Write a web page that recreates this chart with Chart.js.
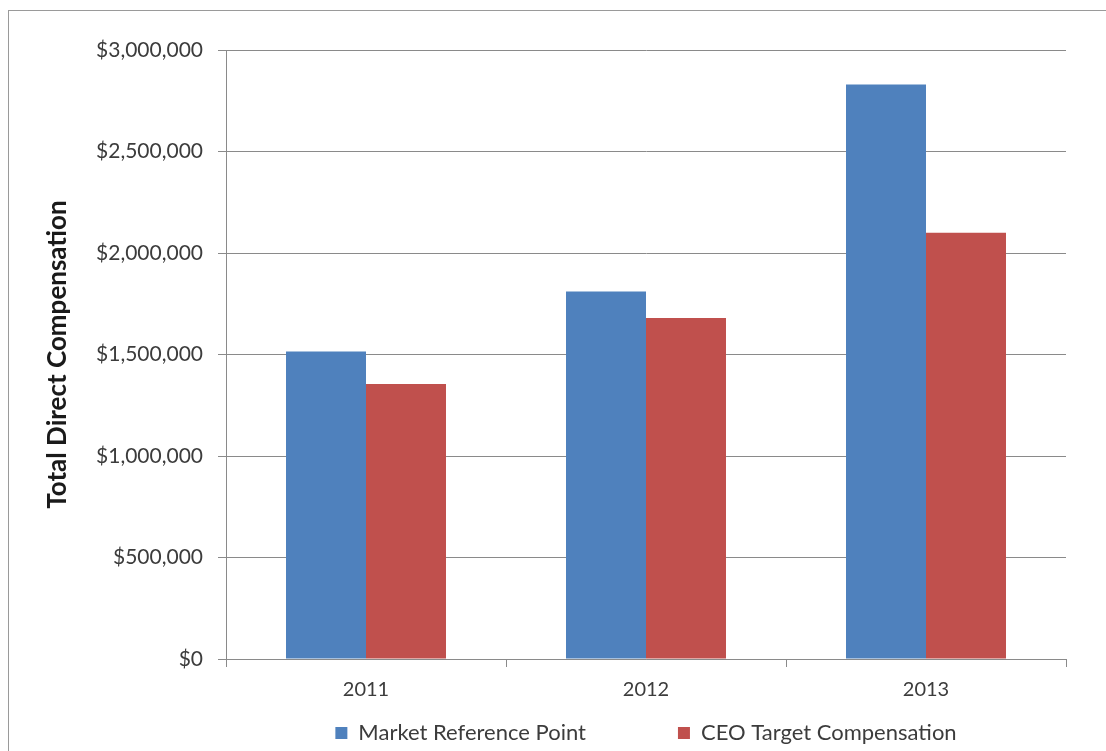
<!DOCTYPE html>
<html>
<head>
<meta charset="utf-8">
<script src="https://cdn.jsdelivr.net/npm/chart.js@4.4.1/dist/chart.umd.min.js"></script>
<style>
html,body{margin:0;padding:0;background:#ffffff;}
#wrap{width:1106px;height:751px;position:relative;}
</style>
</head>
<body>
<div id="wrap"><canvas id="c"></canvas></div>
<script>
const categories = ['2011', '2012', '2013'];
const seriesNames = ['Market Reference Point', 'CEO Target Compensation'];
const marketReference = [1515000, 1810000, 2830000];
const ceoTarget = [1355000, 1680000, 2100000];
const yMin = 0;
const yMax = 3000000;
const yStep = 500000;
const yAxisTitle = 'Total Direct Compensation';

const BLUE = '#4F81BD';
const RED = '#C0504D';
const GRID = '#8a8a8a';
const TEXT = '#3c3c3c';

const LEGEND_PAD = 92;
const LEGEND_FONT = 22;
const LEGEND_CENTER_Y = 733;
const LEGEND_LAYOUT_H = 47;

const borderPlugin = {
  id: 'outerBorder',
  beforeDraw(chart) {
    const ctx = chart.ctx;
    ctx.save();
    ctx.fillStyle = '#ffffff';
    ctx.fillRect(0, 0, chart.width, chart.height);
    ctx.strokeStyle = '#9a9a9a';
    ctx.lineWidth = 1;
    ctx.strokeRect(8.5, 10.5, chart.width + 20, chart.height + 20);
    ctx.restore();
  }
};

// keeps the wide item spacing of the legend without letting it eat layout height
const legendPlacePlugin = {
  id: 'legendPlace',
  beforeLayout(chart) {
    const lg = chart.legend;
    if (lg && !lg.__wrapped) {
      const origFit = lg.fit.bind(lg);
      lg.fit = function () { origFit(); this.height = LEGEND_LAYOUT_H; };
      lg.__wrapped = true;
    }
  },
  afterLayout(chart) {
    const lg = chart.legend;
    if (!lg) return;
    lg.top = LEGEND_CENTER_Y - LEGEND_FONT / 2 - LEGEND_PAD;
    lg.bottom = chart.height;
    lg.height = lg.bottom - lg.top;
  }
};

new Chart(document.getElementById('c'), {
  type: 'bar',
  data: {
    labels: categories,
    datasets: [
      { label: seriesNames[0], data: marketReference, backgroundColor: BLUE, borderWidth: 0 },
      { label: seriesNames[1], data: ceoTarget, backgroundColor: RED, borderWidth: 0 }
    ]
  },
  options: {
    responsive: true,
    maintainAspectRatio: false,
    animation: false,
    devicePixelRatio: 1,
    layout: { padding: { left: 0, top: 50, right: 40, bottom: 0 } },
    datasets: { bar: { categoryPercentage: 0.5714, barPercentage: 1.0 } },
    scales: {
      x: {
        offset: true,
        grid: { display: true, offset: true, drawOnChartArea: false, drawTicks: true, tickLength: 8, color: GRID, lineWidth: 1 },
        border: { display: true, color: GRID, width: 1 },
        ticks: { color: TEXT, font: { family: 'Lato', size: 20 }, padding: 11, maxRotation: 0 },
        afterFit(scale) { scale.height = 45; }
      },
      y: {
        min: yMin,
        max: yMax,
        ticks: {
          stepSize: yStep,
          color: TEXT,
          font: { family: 'Lato', size: 21 },
          padding: 15,
          callback: (v) => '$' + Number(v).toLocaleString('en-US')
        },
        grid: { color: GRID, lineWidth: 1, tickLength: 8, drawTicks: true },
        border: { display: true, color: GRID, width: 1 },
        title: {
          display: true,
          text: yAxisTitle,
          color: '#1a1a1a',
          font: { family: 'Lato', size: 26, weight: 'bold' },
          padding: { top: 42, bottom: 0 }
        },
        afterFit(scale) { scale.width = 226; }
      }
    },
    plugins: {
      legend: {
        display: true,
        position: 'bottom',
        fullSize: false,
        labels: {
          boxWidth: 12,
          boxHeight: 12,
          padding: LEGEND_PAD,
          color: TEXT,
          font: { family: 'Lato', size: LEGEND_FONT }
        }
      },
      tooltip: { enabled: false },
      title: { display: false }
    }
  },
  plugins: [borderPlugin, legendPlacePlugin]
});
</script>
</body>
</html>
